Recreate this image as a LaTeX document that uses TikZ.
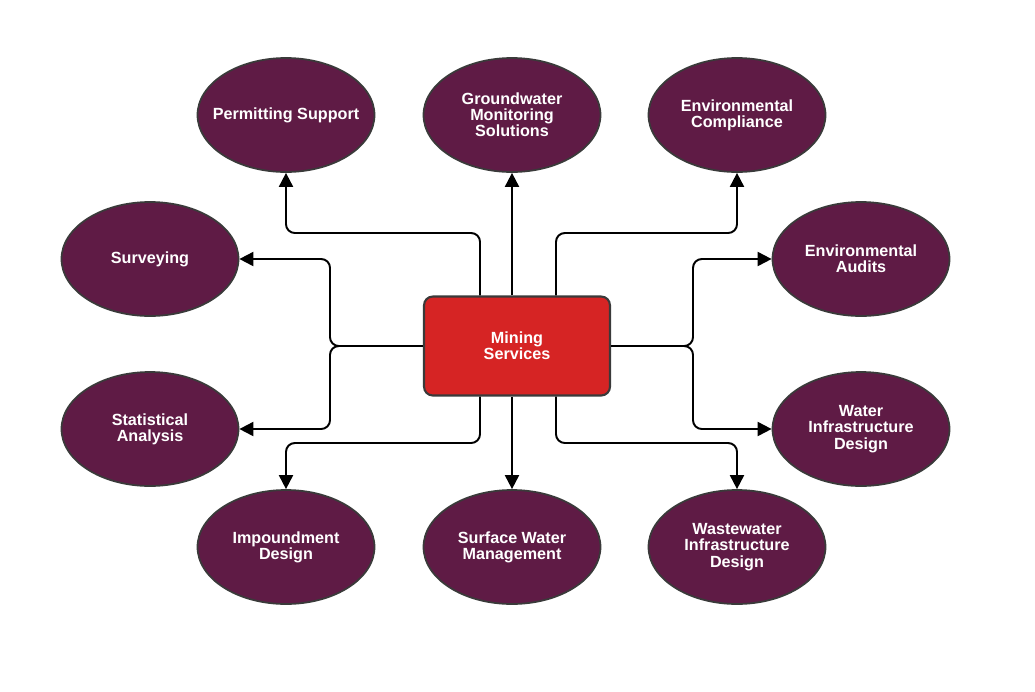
\documentclass[tikz,border=0pt]{standalone}
\usepackage{fontspec}
\setmainfont{Liberation Sans}
\usetikzlibrary{shapes.geometric,arrows.meta,calc}
\definecolor{plum}{HTML}{5F1B45}
\definecolor{minered}{HTML}{D62424}
\definecolor{edge}{HTML}{3A3A3A}
\tikzset{
  service/.style={ellipse, draw=edge, line width=1pt, fill=plum, text=white,
    minimum width=3.54cm, minimum height=2.28cm, inner sep=0pt, align=center,
    font=\fontsize{9.2}{9.2}\selectfont\bfseries},
  hub/.style={rectangle, rounded corners=5pt, draw=edge, line width=1.2pt, fill=minered,
    text=white, minimum width=3.72cm, minimum height=1.98cm, align=center,
    font=\fontsize{9.2}{9.2}\selectfont\bfseries},
  link/.style={line width=1.1pt, rounded corners=5pt, -{Triangle[length=8pt,width=8pt]}}
}
\begin{document}
\begin{tikzpicture}[x=0.02cm, y=-0.02cm]
  \useasboundingbox (0,0) rectangle (1035,691);
  % centre
  \node[hub] (ctr) at (517,346) {Mining\\Services};
  % top row
  \node[service, inner xsep=-8pt] (permit) at (286,115) {Permitting Support};
  \node[service] (ground) at (512,115) {Groundwater\\Monitoring\\Solutions};
  \node[service] (comply) at (737,115) {Environmental\\Compliance};
  % sides
  \node[service] (survey) at (150,259) {Surveying};
  \node[service] (stats) at (150,429) {Statistical\\Analysis};
  \node[service] (audit) at (861,259) {Environmental\\Audits};
  \node[service] (water) at (861,429) {Water\\Infrastructure\\Design};
  % bottom row
  \node[service] (impound) at (286,547) {Impoundment\\Design};
  \node[service] (surface) at (512,547) {Surface Water\\Management};
  \node[service] (waste) at (737,547) {Wastewater\\Infrastructure\\Design};
  % junctions
  \coordinate (lj) at (330,346);
  \coordinate (rj) at (693,346);
  % connectors
  \draw[link] ($(ctr.north)+(-37,0)$) |- (345,233) -| (permit.south);
  \draw[link] (ctr.north -| ground.south) -- (ground.south);
  \draw[link] ($(ctr.north)+(39,0)$) |- (700,233) -| (comply.south);
  \draw[link] (ctr.west) -- (lj) |- (survey.east);
  \draw[link] (ctr.west) -- (lj) |- (stats.east);
  \draw[link] (ctr.east) -- (rj) |- (audit.west);
  \draw[link] (ctr.east) -- (rj) |- (water.west);
  \draw[link] ($(ctr.south)+(-37,0)$) |- (345,443) -| (impound.north);
  \draw[link] (ctr.south -| surface.north) -- (surface.north);
  \draw[link] ($(ctr.south)+(39,0)$) |- (700,443) -| (waste.north);
\end{tikzpicture}
\end{document}
